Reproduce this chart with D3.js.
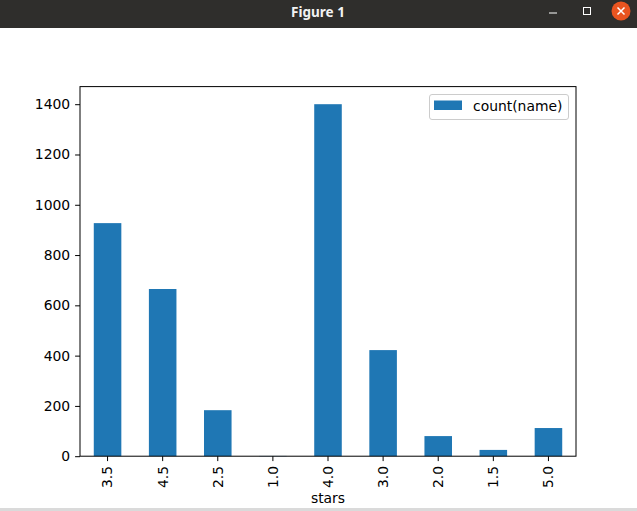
<!DOCTYPE html>
<html><head><meta charset="utf-8">
<script src="https://cdn.jsdelivr.net/npm/d3@7"></script>
<style>html,body{margin:0;padding:0;background:#fff;overflow:hidden}</style>
</head><body>
<script>
const categories = ["3.5","4.5","2.5","1.0","4.0","3.0","2.0","1.5","5.0"];
const counts = [927, 665, 183, 1, 1400, 422, 80, 25, 112];
const yTicks = [0, 200, 400, 600, 800, 1000, 1200, 1400];
const seriesName = "count(name)";
const xLabel = "stars";

const W = 637, H = 511;
const svg = d3.select("body").append("svg").attr("width", W).attr("height", H)
  .style("font-family", "'DejaVu Sans', sans-serif");

// window chrome
svg.append("rect").attr("x",0).attr("y",0).attr("width",W).attr("height",28).attr("fill","#2f2e2c");
svg.append("text").attr("x",318).attr("y",17).attr("text-anchor","middle")
  .attr("fill","#f2f2f2").attr("font-weight","bold").attr("font-size",13.5)
  .attr("font-family","'Noto Sans', 'DejaVu Sans', sans-serif").text("Figure 1");
svg.append("line").attr("x1",549).attr("x2",557).attr("y1",13).attr("y2",13).attr("stroke","#fff").attr("stroke-width",1);
svg.append("rect").attr("x",583.5).attr("y",7.5).attr("width",7).attr("height",7).attr("fill","none").attr("stroke","#fff").attr("stroke-width",1);
svg.append("circle").attr("cx",621).attr("cy",11).attr("r",9.5).attr("fill","#e95420");
svg.append("path").attr("d","M617.5,7.5L624.5,14.5M624.5,7.5L617.5,14.5").attr("stroke","#fff").attr("stroke-width",1.5);
svg.append("rect").attr("x",0).attr("y",508).attr("width",W).attr("height",3).attr("fill","#dadada");

const m = {left:80, right:576, top:86.6, bottom:456.2};
const x = d3.scaleBand().domain(categories).range([m.left, m.right]).paddingInner(0.5).paddingOuter(0.25);
const y = d3.scaleLinear().domain([0, d3.max(counts)*1.05]).range([m.bottom, m.top]);

const data = categories.map((c,i)=>({c, v:counts[i]}));
svg.append("g").selectAll("rect").data(data).join("rect")
  .attr("x", d=>x(d.c)).attr("width", x.bandwidth())
  .attr("y", d=>y(d.v)).attr("height", d=>y(0)-y(d.v))
  .attr("fill","#1f77b4");

const fs = 13.9;
const yAxis = svg.append("g").attr("transform",`translate(${m.left},0)`)
  .call(d3.axisLeft(y).tickValues(yTicks).tickSize(4.9).tickPadding(4.9).tickFormat(d3.format("d")));
const xAxis = svg.append("g").attr("transform",`translate(0,${m.bottom})`)
  .call(d3.axisBottom(x).tickSize(4.9).tickPadding(4.9));
[yAxis, xAxis].forEach(a=>{
  a.select(".domain").remove();
  a.selectAll("line").attr("stroke","#000").attr("stroke-width",1);
  a.selectAll("text").attr("font-size",fs).attr("fill","#000").attr("font-family","'DejaVu Sans', sans-serif");
});
xAxis.selectAll("text")
  .attr("transform","rotate(-90)")
  .attr("x", -9.8).attr("y", 0).attr("dy","0.35em")
  .attr("text-anchor","end");

svg.append("rect").attr("x",m.left).attr("y",m.top).attr("width",m.right-m.left).attr("height",m.bottom-m.top)
  .attr("fill","none").attr("stroke","#000").attr("stroke-width",1);

svg.append("text").attr("x",(m.left+m.right)/2).attr("y",503).attr("text-anchor","middle")
  .attr("font-size",fs).attr("fill","#000").text(xLabel);

// legend
const lg = svg.append("g");
lg.append("rect").attr("x",429.5).attr("y",94.5).attr("width",139).attr("height",25).attr("rx",2.5)
  .attr("fill","#fff").attr("fill-opacity",0.8).attr("stroke","#cccccc");
lg.append("rect").attr("x",434).attr("y",100.5).attr("width",28).attr("height",9.5).attr("fill","#1f77b4");
lg.append("text").attr("x",473).attr("y",110.5).attr("font-size",fs).attr("fill","#000").text(seriesName);
</script>
</body></html>
